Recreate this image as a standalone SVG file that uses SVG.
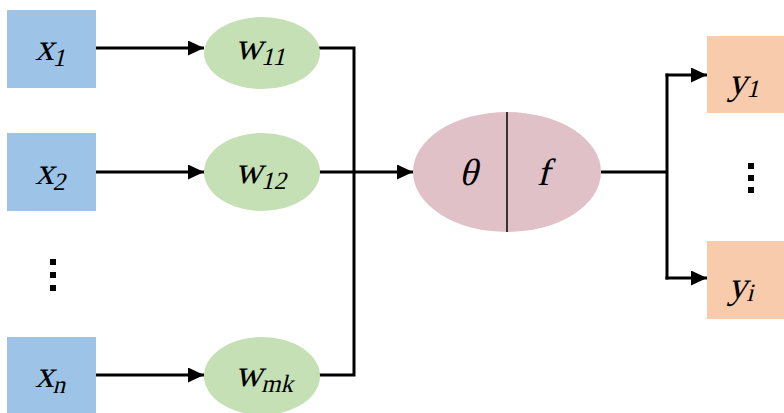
<svg xmlns="http://www.w3.org/2000/svg" width="784" height="413" viewBox="0 0 784 413">
<defs>
<style>
.in{fill:#9DC3E6}
.w{fill:#C5E0B4}
.out{fill:#F8CBAD}
.core{fill:#E1C1C8}
.ln{fill:none;stroke:#000;stroke-width:3}
.dot{fill:#000}
.lbl{font-family:"Liberation Serif","Times New Roman",serif;font-size:38px;fill:#000}
.sub{font-size:25px}
</style>
<marker id="ah" markerWidth="16" markerHeight="15" refX="16" refY="7.5" orient="auto" markerUnits="userSpaceOnUse">
<path d="M0,0 L16,7.5 L0,15 Z" fill="#000"/>
</marker>
</defs>
<rect width="784" height="413" fill="#fff"/>
<g id="connectors">
<line class="ln" x1="96" y1="48" x2="204" y2="48" marker-end="url(#ah)"/>
<line class="ln" x1="96" y1="172" x2="204" y2="172" marker-end="url(#ah)"/>
<line class="ln" x1="96" y1="375" x2="204" y2="375" marker-end="url(#ah)"/>
<polyline class="ln" points="319,48 354,48 354,375 319,375"/>
<line class="ln" x1="319" y1="172" x2="413" y2="172" marker-end="url(#ah)"/>
<line class="ln" x1="601" y1="172" x2="667" y2="172"/>
<line class="ln" x1="667" y1="73.5" x2="667" y2="279.5"/>
<line class="ln" x1="665.5" y1="75" x2="707" y2="75" marker-end="url(#ah)"/>
<line class="ln" x1="665.5" y1="278" x2="707" y2="278" marker-end="url(#ah)"/>
</g>
<g id="x1"><rect class="in" x="7" y="10" width="89" height="78"/><text class="lbl" transform="translate(35,60) skewX(-14)">x<tspan class="sub" dy="6">1</tspan></text></g>
<g id="x2"><rect class="in" x="7" y="133" width="89" height="78"/><text class="lbl" transform="translate(35,184) skewX(-14)">x<tspan class="sub" dy="6">2</tspan></text></g>
<g id="dots-left"><rect class="dot" x="50" y="259" width="6" height="6"/><rect class="dot" x="50" y="272" width="6" height="6"/><rect class="dot" x="50" y="285" width="6" height="6"/></g>
<g id="xn"><rect class="in" x="7" y="337" width="89" height="78"/><text class="lbl" transform="translate(35,387) skewX(-14)">x<tspan class="sub" dy="6">n</tspan></text></g>
<g id="w11"><ellipse class="w" cx="262" cy="53" rx="58" ry="36"/><text class="lbl" transform="translate(235,59) skewX(-14)">w<tspan class="sub" dy="6">11</tspan></text></g>
<g id="w12"><ellipse class="w" cx="262" cy="172" rx="58" ry="39"/><text class="lbl" transform="translate(235,183) skewX(-14)">w<tspan class="sub" dy="6">12</tspan></text></g>
<g id="wmk"><ellipse class="w" cx="262" cy="376" rx="58" ry="39"/><text class="lbl" transform="translate(235,386) skewX(-14)">w<tspan class="sub" dy="6">mk</tspan></text></g>
<g id="neuron"><ellipse class="core" cx="507" cy="172" rx="94" ry="60"/><line x1="507" y1="112" x2="507" y2="232" stroke="#000" stroke-width="1.5"/><text class="lbl" text-anchor="middle" transform="translate(468,185) skewX(-14)">θ</text><text class="lbl" text-anchor="middle" transform="translate(543,185) skewX(-14)">f</text></g>
<g id="y1"><rect class="out" x="707" y="36" width="80" height="77"/><text class="lbl" transform="translate(728,94) skewX(-14)">y<tspan class="sub" dy="3">1</tspan></text></g>
<g id="dots-right"><rect class="dot" x="748" y="163" width="6" height="6"/><rect class="dot" x="748" y="175" width="6" height="6"/><rect class="dot" x="748" y="187" width="6" height="6"/></g>
<g id="yi"><rect class="out" x="707" y="241" width="80" height="78"/><text class="lbl" transform="translate(728,298) skewX(-14)">y<tspan class="sub" dy="3">i</tspan></text></g>
</svg>
